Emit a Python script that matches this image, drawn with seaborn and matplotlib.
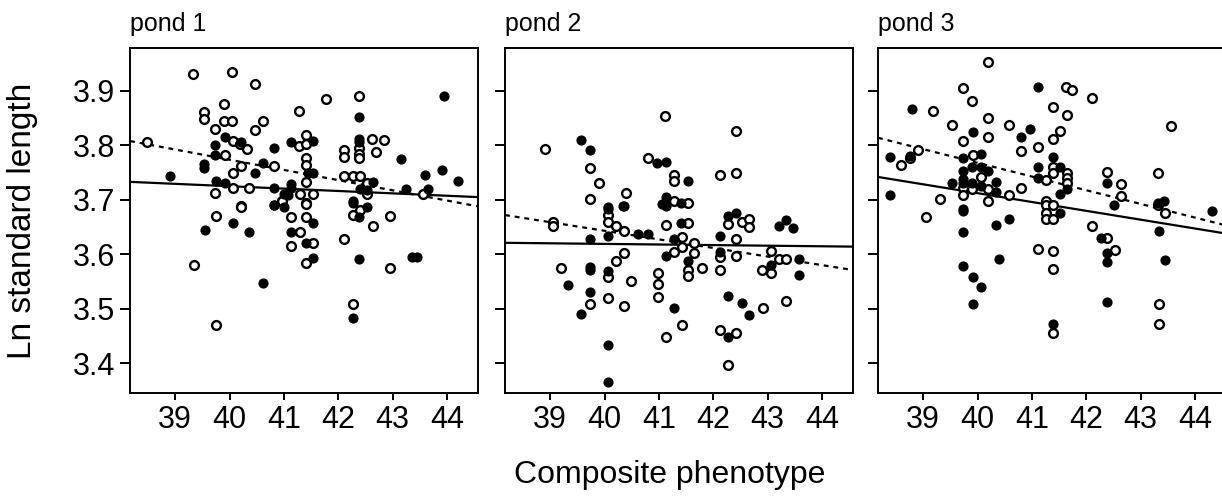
import numpy as np
import pandas as pd
import matplotlib
matplotlib.use("Agg")
import matplotlib.pyplot as plt
import seaborn as sns

# pond 1
p1_open_x = [39.33, 40.05, 40.46, 41.78, 42.38, 41.27, 39.54, 39.54, 39.90, 39.90, 40.05, 40.61,
             40.46, 39.74, 38.48, 40.06, 40.19, 40.33, 39.91, 40.21, 40.81, 40.06, 41.27, 41.40,
             41.40, 41.40, 41.40, 41.40, 42.11, 42.11, 42.11, 42.28, 42.40, 42.62, 42.70, 42.38,
             42.38, 42.38, 39.74, 40.06, 40.35, 40.21, 41.29, 41.53, 41.40, 40.96, 42.52, 42.52,
             40.97, 41.40, 41.13, 41.40, 41.29, 41.13, 41.53, 41.40, 39.75, 40.21, 39.34, 39.75,
             42.27, 42.40, 42.11, 42.63, 42.27, 42.95, 42.95, 43.55, 42.85]
p1_open_y = [3.931, 3.935, 3.912, 3.885, 3.891, 3.864, 3.861, 3.848, 3.876, 3.844, 3.844, 3.844,
             3.828, 3.830, 3.806, 3.809, 3.803, 3.793, 3.782, 3.762, 3.762, 3.749, 3.799, 3.819,
             3.803, 3.776, 3.764, 3.733, 3.791, 3.778, 3.744, 3.744, 3.743, 3.811, 3.788, 3.795,
             3.785, 3.777, 3.713, 3.722, 3.721, 3.689, 3.711, 3.711, 3.694, 3.698, 3.730, 3.710,
             3.697, 3.692, 3.668, 3.668, 3.640, 3.616, 3.620, 3.583, 3.671, 3.686, 3.580, 3.470,
             3.673, 3.681, 3.628, 3.652, 3.508, 3.670, 3.575, 3.710, 3.810]
p1_filled_x = [38.91, 39.54, 39.54, 39.74, 39.74, 39.91, 40.21, 40.81, 40.62, 40.46, 41.13, 41.53,
               41.45, 41.53, 42.38, 42.38, 42.38, 39.75, 39.92, 40.81, 41.13, 41.13, 41.00, 41.08,
               40.81, 41.00, 42.63, 42.27, 42.40, 42.52, 39.55, 40.07, 40.35, 40.81, 41.13, 41.53,
               41.40, 41.53, 40.61, 42.27, 42.38, 42.52, 42.38, 42.27,
               43.25, 43.60, 43.95, 43.90, 44.20, 43.35, 43.45, 43.15, 43.65]
p1_filled_y = [3.744, 3.765, 3.758, 3.801, 3.783, 3.816, 3.807, 3.796, 3.767, 3.749, 3.807, 3.809,
               3.749, 3.749, 3.852, 3.812, 3.806, 3.735, 3.730, 3.722, 3.729, 3.721, 3.710, 3.708,
               3.690, 3.687, 3.733, 3.697, 3.720, 3.718, 3.645, 3.657, 3.640, 3.690, 3.641, 3.657,
               3.620, 3.594, 3.548, 3.694, 3.668, 3.686, 3.591, 3.483,
               3.720, 3.745, 3.890, 3.755, 3.735, 3.595, 3.595, 3.775, 3.720]

# pond 2
p2_open_x = [38.91, 41.12, 42.41, 39.73, 39.90, 40.40, 39.73, 40.80, 41.27, 41.27, 42.13, 42.41,
             41.27, 41.54, 39.06, 39.06, 40.06, 40.06, 40.21, 40.35, 41.13, 41.54, 41.43, 41.65,
             41.43, 41.28, 41.65, 42.27, 42.52, 42.65, 42.65, 42.41, 42.13, 42.13, 42.41, 43.06,
             43.20, 43.34, 42.90, 43.06, 39.20, 40.35, 40.21, 40.06, 40.48, 39.74, 40.06, 40.35,
             40.98, 40.98, 40.98, 41.54, 41.54, 41.80, 41.42, 41.14, 42.13, 42.42, 42.28, 42.91,
             43.34]
p2_open_y = [3.793, 3.854, 3.827, 3.759, 3.730, 3.713, 3.701, 3.776, 3.745, 3.735, 3.746, 3.749,
             3.698, 3.694, 3.660, 3.651, 3.672, 3.660, 3.651, 3.643, 3.654, 3.658, 3.632, 3.621,
             3.614, 3.605, 3.603, 3.655, 3.660, 3.664, 3.650, 3.628, 3.595, 3.571, 3.596, 3.606,
             3.591, 3.592, 3.571, 3.565, 3.574, 3.603, 3.588, 3.558, 3.551, 3.508, 3.520, 3.505,
             3.566, 3.545, 3.522, 3.571, 3.560, 3.574, 3.470, 3.447, 3.461, 3.455, 3.396, 3.501,
             3.514]
p2_filled_x = [39.56, 39.73, 40.97, 41.13, 41.54, 41.13, 40.07, 40.34, 41.05, 41.40, 40.06, 40.35,
               41.13, 41.41, 40.62, 40.80, 39.74, 40.06, 41.28, 42.27, 42.42, 42.13, 42.13, 43.20,
               43.34, 43.46, 41.13, 41.54, 39.74, 39.74, 40.07, 39.32, 39.74, 39.56, 40.07, 40.07,
               41.28, 42.28, 42.53, 42.65, 42.28, 43.06, 43.58, 43.57]
p2_filled_y = [3.810, 3.792, 3.767, 3.770, 3.735, 3.705, 3.686, 3.689, 3.692, 3.694, 3.684, 3.689,
               3.688, 3.658, 3.637, 3.637, 3.628, 3.634, 3.628, 3.671, 3.675, 3.634, 3.605, 3.652,
               3.663, 3.649, 3.597, 3.588, 3.577, 3.571, 3.569, 3.543, 3.531, 3.490, 3.433, 3.366,
               3.501, 3.524, 3.510, 3.488, 3.448, 3.580, 3.591, 3.562]

# pond 3
p3_open_x = [40.20, 39.74, 39.89, 41.62, 41.73, 42.10, 39.18, 39.54, 40.20, 40.57, 41.38, 41.64,
             41.51, 41.38, 40.20, 39.74, 40.80, 41.12, 43.55, 38.91, 38.76, 38.59, 39.91, 41.38,
             41.38, 41.26, 41.64, 41.64, 41.64, 40.06, 39.74, 39.89, 40.20, 40.80, 40.57, 39.74,
             39.31, 40.20, 42.39, 42.63, 42.63, 43.32, 43.32, 41.26, 39.06, 41.26, 41.26, 41.26,
             41.39, 41.39, 42.10, 42.39, 42.52, 41.12, 41.39, 41.39, 41.39, 43.34, 43.34, 43.44]
p3_open_y = [3.954, 3.906, 3.882, 3.908, 3.901, 3.888, 3.863, 3.838, 3.851, 3.838, 3.870, 3.856,
             3.827, 3.812, 3.815, 3.809, 3.790, 3.797, 3.836, 3.792, 3.776, 3.764, 3.782, 3.760,
             3.749, 3.736, 3.750, 3.740, 3.730, 3.742, 3.722, 3.720, 3.719, 3.722, 3.708, 3.708,
             3.701, 3.698, 3.752, 3.729, 3.707, 3.750, 3.690, 3.698, 3.668, 3.690, 3.675, 3.665,
             3.690, 3.665, 3.651, 3.630, 3.608, 3.609, 3.606, 3.573, 3.456, 3.508, 3.472, 3.675]
p3_filled_x = [38.80, 41.11, 39.91, 40.97, 40.80, 38.39, 38.76, 39.74, 40.06, 39.89, 40.06, 39.74,
               40.20, 39.74, 41.12, 41.38, 41.51, 41.12, 39.54, 39.74, 39.89, 40.06, 40.34, 40.34,
               41.51, 41.64, 38.39, 42.39, 42.51, 43.32, 43.43, 44.32, 39.74, 39.74, 39.74, 40.34,
               40.58, 40.40, 39.74, 39.92, 40.07, 39.92, 41.51, 42.28, 42.39, 42.39, 42.39, 41.39,
               43.33, 43.44]
p3_filled_y = [3.867, 3.908, 3.825, 3.830, 3.815, 3.778, 3.780, 3.776, 3.785, 3.760, 3.760, 3.753,
               3.753, 3.739, 3.760, 3.778, 3.760, 3.740, 3.730, 3.730, 3.730, 3.725, 3.733, 3.715,
               3.710, 3.720, 3.708, 3.731, 3.690, 3.694, 3.698, 3.679, 3.680, 3.684, 3.640, 3.654,
               3.664, 3.592, 3.579, 3.559, 3.540, 3.509, 3.675, 3.630, 3.603, 3.585, 3.513, 3.472,
               3.643, 3.589]

# fitted lines (end points)
line_x = [38.17, 44.57]
solid_y = {"pond 1": [3.733, 3.705], "pond 2": [3.621, 3.614], "pond 3": [3.742, 3.638]}
dashed_y = {"pond 1": [3.808, 3.688], "pond 2": [3.672, 3.571], "pond 3": [3.814, 3.653]}

ponds = ["pond 1", "pond 2", "pond 3"]
open_pts = [(p1_open_x, p1_open_y), (p2_open_x, p2_open_y), (p3_open_x, p3_open_y)]
filled_pts = [(p1_filled_x, p1_filled_y), (p2_filled_x, p2_filled_y), (p3_filled_x, p3_filled_y)]

rows = []
for pond, (ox, oy), (fx, fy) in zip(ponds, open_pts, filled_pts):
    rows += [{"pond": pond, "x": a, "y": b, "grp": "open"} for a, b in zip(ox, oy)]
    rows += [{"pond": pond, "x": a, "y": b, "grp": "filled"} for a, b in zip(fx, fy)]
df = pd.DataFrame(rows)

sns.set_theme(style="ticks")
plt.rcParams["font.family"] = ["Liberation Sans", "DejaVu Sans"]

fig = plt.figure(figsize=(12.22, 4.96), dpi=100)
lefts = [130, 505, 878]
for i, pond in enumerate(ponds):
    ax = fig.add_axes([lefts[i] / 1222, 103 / 496, 348 / 1222, 345 / 496])
    d = df[df["pond"] == pond]
    sns.lineplot(x=line_x, y=solid_y[pond], ax=ax, color="black", lw=1.6)
    sns.lineplot(x=line_x, y=dashed_y[pond], ax=ax, color="black", lw=1.6,
                 linestyle=(0, (2.2, 2.2)))
    sns.scatterplot(data=d[d["grp"] == "open"], x="x", y="y", ax=ax, s=40,
                    facecolor="white", edgecolor="black", linewidth=1.7, zorder=3)
    sns.scatterplot(data=d[d["grp"] == "filled"], x="x", y="y", ax=ax, s=40,
                    color="black", edgecolor="black", linewidth=1.0, zorder=4)
    ax.set_xlim(38.17, 44.57)
    ax.set_ylim(3.345, 3.979)
    ax.set_xticks(np.arange(39, 45))
    ax.set_yticks([3.4, 3.5, 3.6, 3.7, 3.8, 3.9])
    ax.set_xlabel("")
    ax.set_ylabel("")
    for sp in ax.spines.values():
        sp.set_visible(True)
        sp.set_linewidth(1.4)
        sp.set_color("black")
    ax.tick_params(axis="x", length=5, width=1.4, pad=4, labelsize=22, colors="black")
    ax.tick_params(axis="y", length=7, width=1.4, pad=4, labelsize=22, colors="black")
    if i > 0:
        ax.set_yticklabels([])
    ax.set_title(pond, loc="left", fontsize=18, pad=12, color="black")

fig.text(670 / 1222, 21 / 496, "Composite phenotype", ha="center", va="center",
         fontsize=23, color="black")
fig.text(23 / 1222, 1 - 221 / 496, "Ln standard length", ha="center", va="center",
         rotation=90, fontsize=24, color="black")

fig.savefig("out.png", dpi=100)
